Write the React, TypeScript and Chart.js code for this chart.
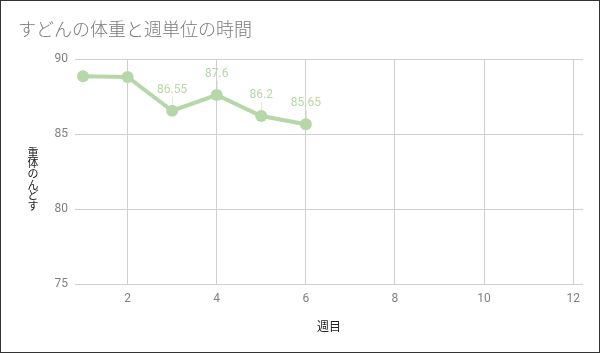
import React, { useEffect, useRef } from "react";
import { Chart, registerables } from "chart.js";

Chart.register(...registerables);

const chartTitle = "すどんの体重と週単位の時間";
const xAxisTitle = "週目";
const yAxisTitle = "すどんの体重";
const weeks = [1, 2, 3, 4, 5, 6];
const weights = [88.85, 88.8, 86.55, 87.6, 86.2, 85.65];
const labelShown = [false, false, true, true, true, true];
const xTicks = [2, 4, 6, 8, 10, 12];
const yTicks = [75, 80, 85, 90];

const GREEN = "#b6d7a8";

const overlayPlugin = {
  id: "overlay",
  afterDraw(chart: any) {
    const ctx = chart.ctx;
    const area = chart.chartArea;
    ctx.save();
    // title
    ctx.fillStyle = "#7a7a7a";
    ctx.font = '300 18px "Noto Sans CJK JP"';
    ctx.textAlign = "left";
    ctx.textBaseline = "middle";
    ctx.fillText(chartTitle, 18, 29);
    // x axis title
    ctx.fillStyle = "#222";
    ctx.font = '12px "Noto Sans CJK JP"';
    ctx.textAlign = "center";
    ctx.fillText(xAxisTitle, (area.left + area.right) / 2, 326);
    // y axis title: vertical stacked characters (reversed order as in reference)
    const chars = Array.from(yAxisTitle).reverse();
    ctx.font = '11px "Noto Sans CJK JP"';
    chars.forEach((c, i) => {
      ctx.fillText(c, 33, 152.5 + i * 10.7);
    });
    // data labels
    const meta = chart.getDatasetMeta(0);
    ctx.font = "12px Roboto";
    meta.data.forEach((pt: any, i: number) => {
      if (!labelShown[i]) return;
      ctx.strokeStyle = "rgba(182,215,168,0.45)";
      ctx.lineWidth = 1;
      ctx.beginPath();
      ctx.moveTo(Math.round(pt.x) + 0.5, pt.y - 14);
      ctx.lineTo(Math.round(pt.x) + 0.5, pt.y - 5);
      ctx.stroke();
      ctx.fillStyle = GREEN;
      ctx.textAlign = "center";
      ctx.textBaseline = "middle";
      ctx.fillText(String(weights[i]), pt.x, pt.y - 21);
    });
    // border
    ctx.strokeStyle = "#333";
    ctx.lineWidth = 1;
    ctx.strokeRect(0.5, 0.5, chart.width - 1, chart.height - 1);
    ctx.restore();
  },
};

export default function App() {
  const ref = useRef<HTMLCanvasElement>(null);
  useEffect(() => {
    document.body.style.margin = "0";
    const chart = new Chart(ref.current!, {
      type: "line",
      data: {
        datasets: [
          {
            data: weeks.map((w, i) => ({ x: w, y: weights[i] })),
            borderColor: GREEN,
            backgroundColor: GREEN,
            borderWidth: 4,
            pointRadius: 6,
            pointBorderWidth: 0,
            pointBackgroundColor: GREEN,
            tension: 0,
          },
        ],
      },
      options: {
        responsive: false,
        animation: false,
        layout: { padding: { left: 0, top: 59, right: 17, bottom: 0 } },
        plugins: {
          legend: { display: false },
          tooltip: { enabled: false },
          title: { display: false },
        },
        scales: {
          x: {
            type: "linear",
            min: 0.82,
            max: 12.22,
            afterBuildTicks: (s: any) => {
              s.ticks = xTicks.map((v) => ({ value: v }));
            },
            afterFit: (s: any) => {
              s.height = 69;
            },
            grid: { color: "#d0d0d0", drawTicks: false },
            border: { display: false },
            ticks: {
              padding: 8,
              color: "#808080",
              font: { family: "Roboto", size: 12 },
              autoSkip: false,
              maxRotation: 0,
            },
          },
          y: {
            min: 75,
            max: 90,
            afterBuildTicks: (s: any) => {
              s.ticks = yTicks.map((v) => ({ value: v }));
            },
            afterFit: (s: any) => {
              s.width = 75;
            },
            grid: { color: "#d0d0d0", drawTicks: false },
            border: { display: false },
            ticks: {
              padding: 7,
              color: "#808080",
              font: { family: "Roboto", size: 12 },
            },
          },
        },
      },
      plugins: [overlayPlugin],
    } as any);
    return () => chart.destroy();
  }, []);
  return (
    <div style={{ width: 600, height: 353, background: "#fff" }}>
      <canvas ref={ref} width={600} height={353} style={{ display: "block" }} />
    </div>
  );
}
